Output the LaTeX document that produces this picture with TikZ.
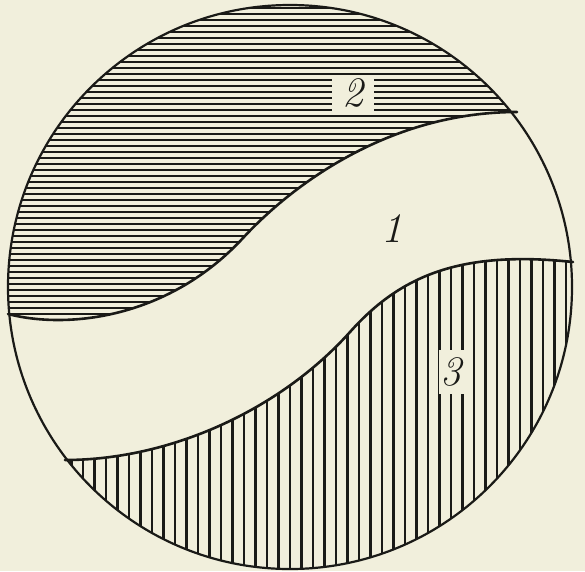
\documentclass[tikz,border=0pt]{standalone}
\usepackage{tikz}
\usetikzlibrary{positioning}
\definecolor{Ink}{HTML}{1A1A17}
\definecolor{Paper}{HTML}{F1EFDC}
\tikzset{
  rim/.style={draw=Ink, line width=2.2pt},
  seam/.style={draw=Ink, line width=2.6pt, line cap=round},
  hatchh/.style={draw=Ink, line width=2.8pt},
  hatchv/.style={draw=Ink, line width=2.3pt},
  numlabel/.style={
    fill=Paper, inner sep=0pt, text=Ink,
    font=\fontsize{42}{42}\selectfont\itshape
  }
}

\begin{document}
\begin{tikzpicture}[x=1pt,y=-1pt]
    \fill[Paper] (0,0) rectangle (585,571);
    \coordinate (ul) at (8,314);
    \coordinate (um) at (243,238);
    \coordinate (ur) at (517,112);
    \coordinate (ll) at (65,460);
    \coordinate (lm) at (350,332);
    \coordinate (lr) at (573,262);
    % zone 2
    \begin{scope}
      \clip (290,287) circle (282);
      \clip (-5,312) -- (ul) .. controls (70,330) and (170,317) .. (um)
        .. controls (293,184) and (390,112) .. (ur) -- (600,110)
        -- (600,-5) -- (-5,-5) -- cycle;
      \foreach \y in {8,14,...,326}
        \draw[hatchh] (0,\y) -- (585,\y);
    \end{scope}
    % zone 3
    \begin{scope}
      \clip (290,287) circle (282);
      \clip (-5,461) -- (ll) .. controls (170,460) and (280,410) .. (lm)
        .. controls (400,276) and (460,250) .. (lr) -- (600,265)
        -- (600,600) -- (-5,600) -- cycle;
      \foreach \x in {60,71.5,...,580}
        \draw[hatchv] (\x,0) -- (\x,571);
    \end{scope}
    \node[numlabel,minimum width=42pt,minimum height=36pt] (two) at (353,93) {2};
    \node[numlabel] (one) at (392,229) {1};
    \node[numlabel,minimum width=25pt,minimum height=44pt] (three) at (451,372) {3};
    \draw[seam] (ul) .. controls (70,330) and (170,317) .. (um)
      .. controls (293,184) and (390,112) .. (ur);
    \draw[seam] (ll) .. controls (170,460) and (280,410) .. (lm)
      .. controls (400,276) and (460,250) .. (lr);
    \draw[rim] (290,287) circle (282);
\end{tikzpicture}
\end{document}
